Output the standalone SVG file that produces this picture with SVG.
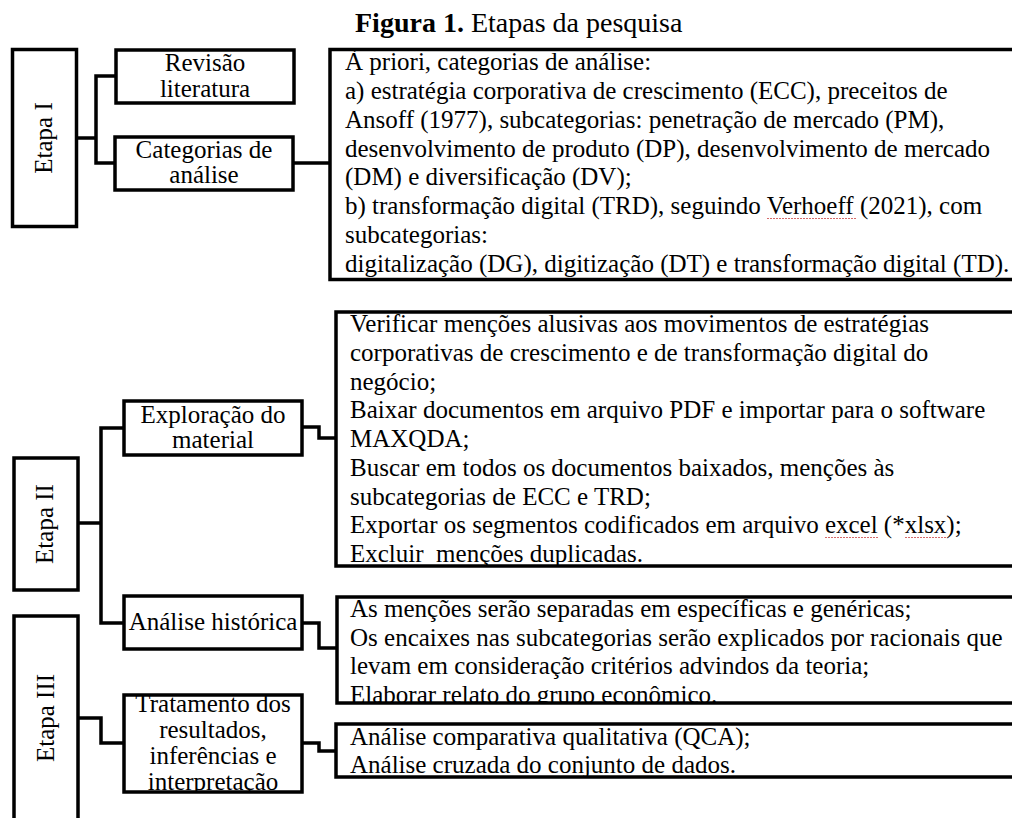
<svg xmlns="http://www.w3.org/2000/svg" width="1012" height="818" viewBox="0 0 1012 818">
<style>
.box{fill:none;stroke:#000;stroke-width:3.5}
.t{font-family:"Liberation Serif","Times New Roman",serif;fill:#000}
.n{font-size:25px;text-anchor:middle}
.b1{font-size:25px}
.b2{font-size:25px}
.c{fill:none;stroke:#000;stroke-width:3.5;stroke-linejoin:miter}
.sq{fill:none;stroke:#d46a6a;stroke-width:1.2;stroke-dasharray:2 1}
</style>
<defs>
<clipPath id="k1"><rect x="330" y="49" width="700" height="231"/></clipPath>
<clipPath id="k2"><rect x="336" y="312" width="700" height="254"/></clipPath>
<clipPath id="k3"><rect x="337" y="597" width="700" height="106"/></clipPath>
<clipPath id="k4"><rect x="336" y="724" width="700" height="53"/></clipPath>
<clipPath id="k5"><rect x="124" y="695" width="178" height="97"/></clipPath>
</defs>
<rect width="1012" height="818" fill="#fff"/>
<text class="t" x="355" y="32" font-size="28"><tspan font-weight="bold">Figura 1.</tspan> Etapas da pesquisa</text>

<g id="connectors">
<path class="c" d="M77,138 H96"/>
<path class="c" d="M116,76 H96 V163 H115"/>
<path class="c" d="M293,163 H330"/>
<path class="c" d="M79,523 H101"/>
<path class="c" d="M123,428 H101 V623 H123"/>
<path class="c" d="M302,427 H319 V438 H336"/>
<path class="c" d="M302,623 H319 V648 H337"/>
<path class="c" d="M79,718 H101 V743 H124"/>
<path class="c" d="M302,743 H319 V751 H336"/>
</g>

<g id="etapa1">
<rect class="box" x="12.5" y="49.5" width="64" height="177"/>
<text class="t n" transform="translate(52,138) rotate(-90)">Etapa I</text>
</g>
<g id="revisao">
<rect class="box" x="116" y="50" width="178" height="53"/>
<text class="t n" x="205" y="71">Revisão</text>
<text class="t n" x="205" y="97">literatura</text>
</g>
<g id="categorias">
<rect class="box" x="115" y="137" width="178" height="53"/>
<text class="t n" x="204" y="158">Categorias de</text>
<text class="t n" x="204" y="183">análise</text>
</g>
<g id="box1">
<g clip-path="url(#k1)" class="t b1">
<text x="345" y="70">À priori, categorias de análise:</text>
<text x="345" y="98.9">a) estratégia corporativa de crescimento (ECC), preceitos de</text>
<text x="345" y="127.7">Ansoff (1977), subcategorias: penetração de mercado (PM),</text>
<text x="345" y="156.6">desenvolvimento de produto (DP), desenvolvimento de mercado</text>
<text x="345" y="185.4">(DM) e diversificação (DV);</text>
<text x="345" y="214.3">b) transformação digital (TRD), seguindo Verhoeff (2021), com</text>
<text x="345" y="243.1">subcategorias:</text>
<text x="345" y="272">digitalização (DG), digitização (DT) e transformação digital (TD).</text>
</g>
<path class="sq" d="M767,218.5 H857"/>
<rect class="box" x="330" y="49.5" width="700" height="230"/>
</g>

<g id="etapa2">
<rect class="box" x="14" y="458" width="64" height="132"/>
<text class="t n" transform="translate(53,524) rotate(-90)">Etapa II</text>
</g>
<g id="exploracao">
<rect class="box" x="124" y="401" width="178" height="54"/>
<text class="t n" x="213" y="423">Exploração do</text>
<text class="t n" x="213" y="448">material</text>
</g>
<g id="box2">
<g clip-path="url(#k2)" class="t b2">
<text x="350" y="332">Verificar menções alusivas aos movimentos de estratégias</text>
<text x="350" y="360.75">corporativas de crescimento e de transformação digital do</text>
<text x="350" y="389.5">negócio;</text>
<text x="350" y="418.25">Baixar documentos em arquivo PDF e importar para o software</text>
<text x="350" y="447">MAXQDA;</text>
<text x="350" y="475.75">Buscar em todos os documentos baixados, menções às</text>
<text x="350" y="504.5">subcategorias de ECC e TRD;</text>
<text x="350" y="533.25">Exportar os segmentos codificados em arquivo excel (*xlsx);</text>
<text x="350" y="562" xml:space="preserve">Excluir  menções duplicadas.</text>
</g>
<path class="sq" d="M825,537.5 H878 M905,537.5 H947"/>
<rect class="box" x="336" y="312" width="700" height="254"/>
</g>

<g id="analise">
<rect class="box" x="124" y="596" width="178" height="53"/>
<text class="t n" x="213" y="630">Análise histórica</text>
</g>
<g id="box3">
<g clip-path="url(#k3)" class="t b2">
<text x="350" y="617">As menções serão separadas em específicas e genéricas;</text>
<text x="350" y="645.5">Os encaixes nas subcategorias serão explicados por racionais que</text>
<text x="350" y="674">levam em consideração critérios advindos da teoria;</text>
<text x="350" y="702.5">Elaborar relato do grupo econômico.</text>
</g>
<rect class="box" x="337" y="597" width="700" height="106"/>
</g>

<g id="etapa3">
<rect class="box" x="14" y="616" width="64" height="230"/>
<text class="t n" transform="translate(54,718) rotate(-90)">Etapa III</text>
</g>
<g id="tratamento">
<g clip-path="url(#k5)" class="t n">
<text x="213" y="712">Tratamento dos</text>
<text x="213" y="738">resultados,</text>
<text x="213" y="764">inferências e</text>
<text x="213" y="790">interpretação</text>
</g>
<rect class="box" x="124" y="695" width="178" height="97"/>
</g>
<g id="box4">
<g clip-path="url(#k4)" class="t b2">
<text x="350" y="745">Análise comparativa qualitativa (QCA);</text>
<text x="350" y="773">Análise cruzada do conjunto de dados.</text>
</g>
<rect class="box" x="336" y="724" width="700" height="53"/>
</g>
</svg>
